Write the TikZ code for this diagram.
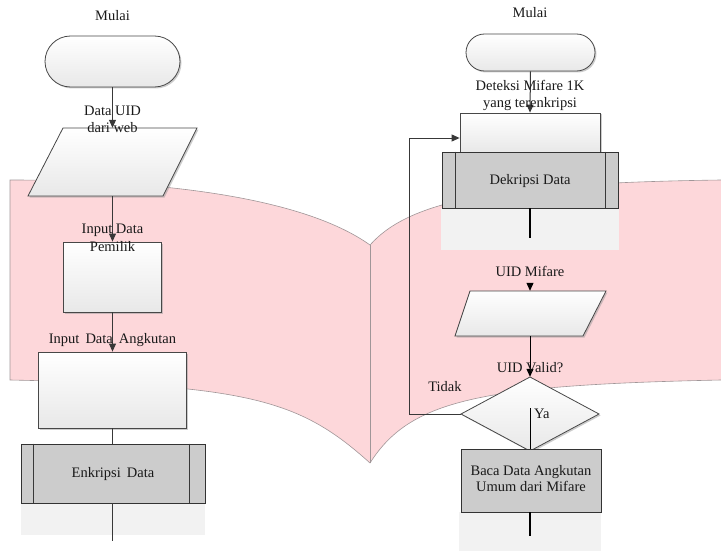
\documentclass[tikz,border=0pt]{standalone}
\usepackage{fontspec}
\setmainfont{Liberation Serif}
\usetikzlibrary{arrows.meta,shadows}
\definecolor{pagepink}{RGB}{253,215,218}
\definecolor{pageedge}{RGB}{160,150,152}
\definecolor{procgray}{RGB}{204,204,204}
\definecolor{palegray}{RGB}{242,242,242}
\begin{document}
\begin{tikzpicture}[x=1pt,y=-1pt,
  font=\fontsize{14.5}{16.5}\selectfont,
  lbl/.style={anchor=base,inner sep=0pt,text=black!90},
  box/.style={draw=black!72,line width=0.8pt,top color=white,bottom color=black!9,
    drop shadow={shadow xshift=1.5pt,shadow yshift=-1.5pt,fill=black!40,opacity=0.5},
    inner sep=0pt},
  hold/.style={draw=none,fill=none,inner sep=0pt},
  proc/.style={draw=black!80,line width=0.8pt,fill=procgray,inner sep=0pt},
  pale/.style={draw=none,fill=palegray,inner sep=0pt},
  edge/.style={draw=black!78,line width=1pt},
  tip/.style={-{Triangle[length=8pt,width=7pt]}},
]
\useasboundingbox (0,0) rectangle (721,551);

% open book page in the background
\fill[pagepink] (10,180) .. controls (150,180) and (300,195) .. (370,245)
  .. controls (410,200) and (500,183) .. (721,180) -- (721,380)
  .. controls (480,385) and (410,400) .. (370,463)
  .. controls (300,400) and (250,385) .. (10,380) -- cycle;
\draw[pageedge,line width=0.6pt] (721,180) .. controls (500,183) and (410,200) .. (370,245)
  .. controls (300,195) and (150,180) .. (10,180) -- (10,380)
  .. controls (250,385) and (300,400) .. (370,463)
  .. controls (410,400) and (480,385) .. (721,380);
\draw[pageedge,line width=0.6pt] (370,245) -- (370,463);

% ---------- left flow ----------
\node[lbl] (mulaiL) at (112.5,21) {Mulai};
\node[box,rounded corners=25.5pt,minimum width=135pt,minimum height=51pt] (s1) at (112.5,61.5) {};

\draw[box] (63,128) -- (197,128) -- (163,196) -- (28,196) -- cycle;
\node[hold,minimum width=100pt,minimum height=68pt] (p1) at (112.5,162) {};

\node[box,minimum width=98pt,minimum height=70pt] (r1) at (112.5,277) {};
\node[box,minimum width=148pt,minimum height=76pt] (r2) at (112.5,390) {};

\node[pale,minimum width=184pt,minimum height=32pt] (e1pale) at (113,519) {};
\node[proc,minimum width=184pt,minimum height=59pt] (e1) at (113,473.5) {};
\draw[edge] ([xshift=12.5pt]e1.north west) -- ([xshift=12.5pt]e1.south west);
\draw[edge] ([xshift=-15.5pt]e1.north east) -- ([xshift=-15.5pt]e1.south east);
\coordinate (endL) at (112.5,541);

\draw[edge,tip] (s1.south) -- (p1.north);
\draw[edge,tip] (p1.south) -- (r1.north);
\draw[edge,tip] (r1.south) -- (r2.north);
\draw[edge] (r2.south) -- (r2.south |- e1.north);
\draw[edge] (e1.south -| endL) -- (endL);

\node[lbl] (tDataUID) at (112.5,115) {Data UID};
\node[lbl] (tDariWeb) at (112.5,132) {dari web};
\node[lbl] (tInput) at (112.5,233) {Input Data};
\node[lbl] (tPemilik) at (112.5,251) {Pemilik};
\node[lbl] (tAngkutan) at (112.5,343) {Input\hspace{6pt}Data\hspace{6pt}Angkutan};
\node[lbl] (tEnkripsi) at (113,477) {Enkripsi\hspace{6pt}Data};

% ---------- right flow ----------
\node[lbl] (mulaiR) at (530,18) {Mulai};
\node[box,rounded corners=18.5pt,minimum width=129pt,minimum height=37pt] (s2) at (530.5,52.5) {};

\node[box,minimum width=140pt,minimum height=39pt] (d1) at (530,132.5) {};
\node[pale,minimum width=178pt,minimum height=42pt] (k1pale) at (530,229) {};
\node[proc,minimum width=176pt,minimum height=56pt] (k1) at (530,180) {};
\draw[edge] ([xshift=14pt]k1.north west) -- ([xshift=14pt]k1.south west);
\draw[edge] ([xshift=-13pt]k1.north east) -- ([xshift=-13pt]k1.south east);
\coordinate (k1end) at (530,238);

\node[lbl] (tUIDMifare) at (530,276) {UID Mifare};
\coordinate (p2in) at (530,283);
\draw[box] (470,291) -- (606,291) -- (583,336) -- (455,336) -- cycle;
\node[hold,minimum width=100pt,minimum height=45pt] (p2) at (530,313.5) {};

\draw[box] (530,377) -- (599,414) -- (530,451) -- (461,414) -- cycle;
\node[hold,minimum width=138pt,minimum height=74pt] (dia) at (530,414) {};
\coordinate (yaStart) at (530,408);

\node[pale,minimum width=142pt,minimum height=39pt] (b2pale) at (530,531.5) {};
\node[proc,minimum width=140pt,minimum height=63pt] (b2) at (531,480.5) {};
\coordinate (endR) at (530,536);
\coordinate (loopc) at (409,138);

\draw[edge,tip] (s2.south) -- (d1.north);
\draw[edge,line width=1.4pt,draw=black] (k1.south) -- (k1end);
\draw[edge,tip,draw=black] (p2in) -- (p2.north);
\draw[edge,tip,draw=black] (p2.south) -- (dia.north);
\draw[edge,draw=black] (yaStart) -- (yaStart |- b2.north);
\draw[edge,tip] (dia.west) -| (loopc) -- (d1.west |- loopc);
\draw[edge,line width=1.4pt,draw=black] (b2.south -| endR) -- (endR);

\node[lbl] (tDeteksi) at (530,91) {Deteksi Mifare 1K};
\node[lbl] (tTerenkripsi) at (530,107) {yang terenkripsi};
\node[lbl] (tDekripsi) at (530,184) {Dekripsi Data};
\node[lbl] (tValid) at (530,372.5) {UID Valid?};
\node[lbl] (tTidak) at (445,391.5) {Tidak};
\node[lbl,anchor=base west] (tYa) at (534,418) {Ya};
\node[lbl] (tBaca) at (531,475) {Baca Data Angkutan};
\node[lbl] (tUmum) at (531,491.5) {Umum dari Mifare};
\end{tikzpicture}
\end{document}
